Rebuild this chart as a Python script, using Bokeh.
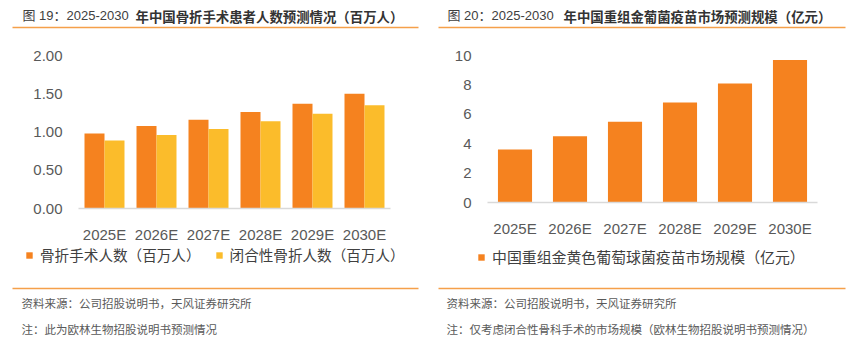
import numpy as np
from bokeh.plotting import figure
from bokeh.models import (ColumnDataSource, Label, BoxAnnotation, Legend, LegendItem,
                          Range1d, FixedTicker, NumeralTickFormatter, LinearAxis)
from bokeh.layouts import row
from bokeh.transform import dodge
from bokeh.embed import file_html
from bokeh.resources import INLINE

# ---- data ----
years = ["2025E", "2026E", "2027E", "2028E", "2029E", "2030E"]
surgery_patients = [0.98, 1.08, 1.16, 1.26, 1.37, 1.50]
closed_fracture = [0.89, 0.96, 1.04, 1.14, 1.24, 1.35]
vaccine_market = [3.6, 4.5, 5.5, 6.8, 8.1, 9.7]
left_ticks = [0, 0.5, 1.0, 1.5, 2.0]
right_ticks = [0, 2, 4, 6, 8, 10]

ORANGE = "#F5821F"
YELLOW = "#FBBC2B"
LINE_OR = "#F5A04A"
FONT = "Liberation Sans, Noto Sans CJK SC, sans-serif"
CJK = "Noto Sans CJK SC"
H = 358


def make_fig(W, cl, cw, y0, ky, ticks, fmt):
    """Frame covers the whole canvas; category band starts at pixel cl (width cw each),
    zero line at pixel y0, ky pixels per value unit."""
    n = len(years)
    p = figure(width=W, height=H,
               x_range=Range1d(-cl / cw - 0.5, (W - cl) / cw - 0.5),
               y_range=Range1d((y0 - H) / ky, y0 / ky),
               x_axis_location=None, y_axis_location=None,
               output_backend="svg", toolbar_location=None,
               min_border_left=0, min_border_right=0, min_border_top=0, min_border_bottom=0)
    p.outline_line_color = None
    p.background_fill_color = "white"
    p.border_fill_color = "white"
    for g in p.grid:
        g.visible = False
    xa = LinearAxis(fixed_location=0, bounds=(-0.5, n - 0.5),
                    ticker=FixedTicker(ticks=list(range(n))),
                    major_label_overrides={i: y for i, y in enumerate(years)})
    xa.axis_line_color = "#D9D9D9"
    xa.axis_line_width = 1.5
    xa.major_tick_line_color = None
    xa.minor_tick_line_color = None
    xa.major_label_standoff = 11
    ya = LinearAxis(fixed_location=-0.5, ticker=FixedTicker(ticks=ticks),
                    formatter=NumeralTickFormatter(format=fmt))
    ya.axis_line_color = None
    ya.major_tick_line_color = None
    ya.minor_tick_line_color = None
    ya.major_label_standoff = 10
    for ax in (xa, ya):
        ax.major_label_text_font_size = "15px"
        ax.major_label_text_color = "#595959"
        ax.major_label_text_font = FONT
    p.add_layout(xa, "below")
    p.add_layout(ya, "left")

    def dx(px):
        return (px - cl) / cw - 0.5

    def dy(py):
        return (y0 - py) / ky

    return p, dx, dy


def add_texts(p, dx, dy, title_a, xa, title_b, xb, src, note, lx0, lx1):
    p.add_layout(Label(x=dx(xa), y=dy(15), text=title_a, text_font=FONT,
                       text_font_size="13px", text_color="#404040", text_baseline="middle"))
    p.add_layout(Label(x=dx(xb), y=dy(15), text=title_b, text_font=CJK,
                       text_font_size="13.4px", text_font_style="bold", text_color="#333333",
                       text_baseline="middle"))
    for yy in (27, 288):
        p.add_layout(BoxAnnotation(left=dx(lx0), right=dx(lx1), top=dy(yy - 0.75),
                                   bottom=dy(yy + 0.75), fill_color=LINE_OR, fill_alpha=1,
                                   line_color=None))
    p.add_layout(Label(x=dx(xa - 1), y=dy(302), text=src, text_font=CJK,
                       text_font_size="11.5px", text_color="#595959", text_baseline="middle"))
    p.add_layout(Label(x=dx(xa - 1), y=dy(328), text=note, text_font=CJK,
                       text_font_size="11.5px", text_color="#595959", text_baseline="middle"))


idx = np.arange(len(years))

# ---- left chart (page x 0..432) ----
p1, dx1, dy1 = make_fig(432, 78, 52.0, 208, 76.5, left_ticks, "0.00")
src1 = ColumnDataSource(dict(x=idx, a=surgery_patients, b=closed_fracture))
r1 = p1.vbar(x=dodge("x", -0.1923), top="a", width=0.3846, source=src1,
             fill_color=ORANGE, line_color=None)
r2 = p1.vbar(x=dodge("x", 0.1923), top="b", width=0.3846, source=src1,
             fill_color=YELLOW, line_color=None)
leg1 = Legend(items=[LegendItem(label="骨折手术人数（百万人）", renderers=[r1]),
                     LegendItem(label="闭合性骨折人数（百万人）", renderers=[r2])],
              orientation="horizontal", location=(25, H - 265),
              glyph_width=8, glyph_height=8, label_standoff=7, spacing=14,
              padding=0, margin=0, border_line_color=None, background_fill_alpha=0,
              label_text_font=CJK, label_text_font_size="14.6px",
              label_text_color="#404040", label_height=20)
p1.add_layout(leg1, "center")
add_texts(p1, dx1, dy1, "图 19：2025-2030 ", 22, "年中国骨折手术患者人数预测情况（百万人）", 135,
          "资料来源：公司招股说明书，天风证券研究所", "注：此为欧林生物招股说明书预测情况", 12, 418)

# ---- right chart (page x 432..862) ----
OFF = 432
p2, dx2, dy2 = make_fig(430, 487 - OFF, 55.0, 202, 14.7, right_ticks, "0")
src2 = ColumnDataSource(dict(x=idx, v=vaccine_market))
r3 = p2.vbar(x="x", top="v", width=0.62, source=src2, fill_color=ORANGE, line_color=None)
leg2 = Legend(items=[LegendItem(label="中国重组金黄色葡萄球菌疫苗市场规模（亿元）", renderers=[r3])],
              orientation="horizontal", location=(477 - OFF, H - 267),
              glyph_width=8, glyph_height=8, label_standoff=7, spacing=15,
              padding=0, margin=0, border_line_color=None, background_fill_alpha=0,
              label_text_font=CJK, label_text_font_size="14.9px",
              label_text_color="#404040", label_height=20)
p2.add_layout(leg2, "center")
add_texts(p2, dx2, dy2, "图 20：2025-2030 ", 447 - OFF, "年中国重组金葡菌疫苗市场预测规模（亿元）", 563 - OFF,
          "资料来源：公司招股说明书，天风证券研究所",
          "注：仅考虑闭合性骨科手术的市场规模（欧林生物招股说明书预测情况）", 438 - OFF, 845 - OFF)

layout = row(p1, p2)
open("out.html", "w").write(file_html(layout, INLINE))
